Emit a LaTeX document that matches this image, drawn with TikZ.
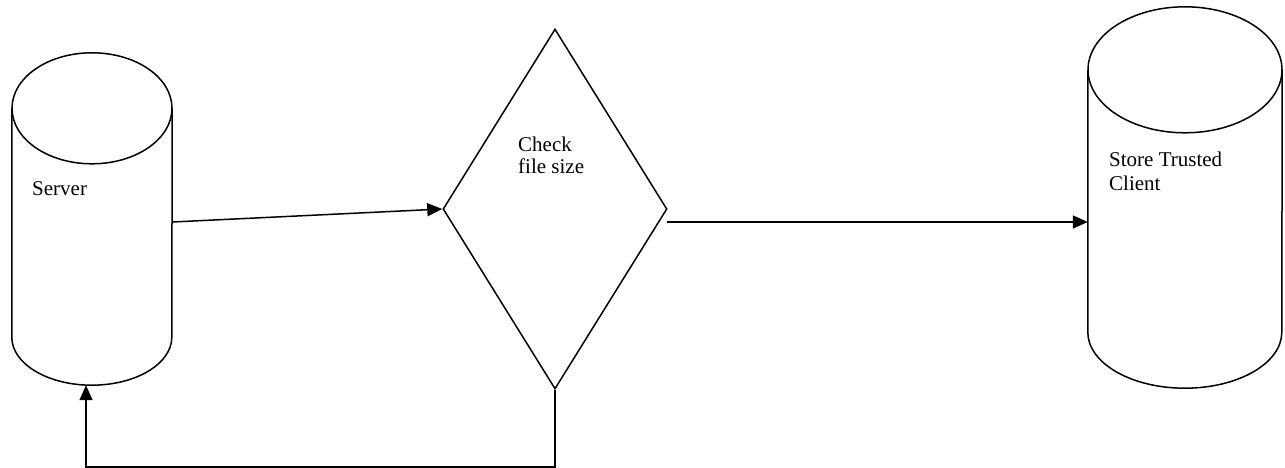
\documentclass[tikz,border=0pt]{standalone}
\usepackage{fontspec}
\setmainfont{Liberation Serif}
\usetikzlibrary{arrows.meta,shapes.geometric}
\tikzset{
  line/.style={line width=1.5pt, line join=miter},
  arr/.style={line, -{Triangle[length=15pt,width=13pt]}},
  box/.style={inner sep=0pt, minimum width=#1},
  lbl/.style={inner sep=0pt, anchor=base west, align=left, font=\fontsize{21pt}{23pt}\selectfont},
  dec/.style={draw, line, diamond, inner sep=0pt, aspect=0.622, minimum width=224pt, minimum height=360pt}
}
\begin{document}
\begin{tikzpicture}[x=1pt,y=-1pt]
\useasboundingbox (0,0) rectangle (1285,468);
% invisible frames of the two cylinders
\node[box=160pt, minimum height=332pt] (server) at (92,219) {};
\node[box=194pt, minimum height=381pt] (store) at (1185,197.5) {};
\node[dec] (check) at (555,209) {};
% server cylinder outline
\draw[line] ([yshift=-55.5pt]server.north) ellipse [x radius=80pt, y radius=55.5pt];
\draw[line] ([yshift=-55.5pt]server.north west) -- ([yshift=48pt]server.south west)
  arc[start angle=180, end angle=360, x radius=80pt, y radius=48pt]
  -- ([yshift=-55.5pt]server.north east);
% store cylinder outline
\draw[line] ([yshift=-63pt]store.north) ellipse [x radius=97pt, y radius=63pt];
\draw[line] ([yshift=-63pt]store.north west) -- ([yshift=56pt]store.south west)
  arc[start angle=180, end angle=360, x radius=97pt, y radius=56pt]
  -- ([yshift=-63pt]store.north east);
% labels (base anchor = baseline of the last line)
\node[lbl] (tserver) at (32,195) {Server};
\node[lbl] (tcheck) at (518,174) {Check\\file size};
\node[lbl, font=\fontsize{21pt}{24pt}\selectfont] (tstore) at (1109,190) {Store Trusted\\Client};
% connectors
\draw[arr] ([yshift=-3pt]server.east) -- (check.west);
\coordinate (c2) at (667,222);
\draw[arr] (c2) -- (c2 -| store.west);
\draw[arr] (check.south) -- ++(0,77) -| ([xshift=-6pt]server.south);
\end{tikzpicture}
\end{document}
